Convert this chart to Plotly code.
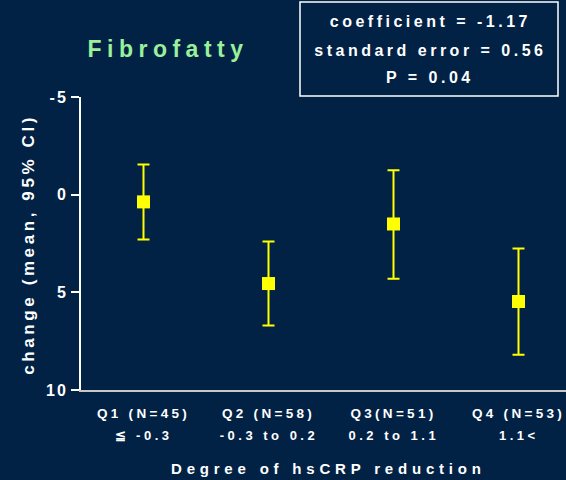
import plotly.graph_objects as go

# Quartiles of hsCRP reduction
groups = ["Q1 (N=45)", "Q2 (N=58)", "Q3(N=51)", "Q4 (N=53)"]
ranges = ["≦ -0.3", "-0.3 to 0.2", "0.2 to 1.1", "1.1<"]

# Change in fibrofatty volume: mean and 95% CI bounds
mean = [0.37, 4.55, 1.50, 5.47]
ci_low = [-1.55, 2.40, -1.25, 2.75]
ci_high = [2.30, 6.70, 4.30, 8.20]

# Regression summary
stats_lines = ["coefficient = -1.17", "standard error = 0.56", "P = 0.04"]

y_ticks = [-5, 0, 5, 10]
y_tick_labels = ["-5", "0", "5", "10"]

BG = "#012245"
YELLOW = "#FFFF00"
GREEN = "#9BF09B"
FONT = "Liberation Sans, Arial, sans-serif"

W, H = 566, 480
ML, MR, MT, MB = 81, 0, 97, 90
PW, PH = W - ML - MR, H - MT - MB


def px_x(px):
    """Horizontal pixel position -> paper fraction."""
    return (px - ML) / PW


def px_y(py):
    """Vertical pixel position (from top) -> paper fraction."""
    return (H - MB - py) / PH


xs = list(range(1, len(groups) + 1))

fig = go.Figure(
    go.Scatter(
        x=xs,
        y=mean,
        mode="markers",
        marker=dict(symbol="square", size=13, color=YELLOW, line=dict(width=0)),
        error_y=dict(
            type="data",
            symmetric=False,
            array=[h - m for h, m in zip(ci_high, mean)],
            arrayminus=[m - l for m, l in zip(mean, ci_low)],
            color=YELLOW,
            thickness=2,
            width=6,
        ),
        hoverinfo="skip",
    )
)

annotations = []

# Regression summary box text
for i, (line, cy) in enumerate(zip(stats_lines, [22, 50, 77])):
    annotations.append(
        dict(
            text=line, xref="paper", yref="paper",
            x=px_x(430), y=px_y(cy), xanchor="center", yanchor="middle",
            showarrow=False,
            font=dict(family=FONT, size=16, color="white", weight=700),
        )
    )

# Second line of category labels: hsCRP change ranges
for x, r in zip(xs, ranges):
    annotations.append(
        dict(
            text=r, xref="x", yref="paper",
            x=x, y=px_y(435), xanchor="center", yanchor="middle",
            showarrow=False,
            font=dict(family=FONT, size=13, color="white", weight=700),
        )
    )

# Axis titles
annotations.append(
    dict(
        text="Degree of hsCRP reduction", xref="paper", yref="paper",
        x=px_x(328), y=px_y(468), xanchor="center", yanchor="middle",
        showarrow=False,
        font=dict(family=FONT, size=15, color="white", weight=700),
    )
)
annotations.append(
    dict(
        text="change (mean, 95% CI)", xref="paper", yref="paper",
        x=px_x(28), y=px_y(245), xanchor="center", yanchor="middle",
        textangle=-90, showarrow=False,
        font=dict(family=FONT, size=17, color="white", weight=700),
    )
)

fig.update_layout(
    width=W,
    height=H,
    margin=dict(l=ML, r=MR, t=MT, b=MB, pad=0),
    paper_bgcolor=BG,
    plot_bgcolor=BG,
    showlegend=False,
    title=dict(
        text="Fibrofatty",
        xref="paper", x=px_x(168), xanchor="center",
        yref="container", y=1 - 49 / H, yanchor="middle",
        font=dict(family=FONT, size=23, color=GREEN, weight=700),
    ),
    xaxis=dict(
        range=[0.5, 4.38],
        tickmode="array",
        tickvals=xs,
        ticktext=groups,
        ticks="",
        showline=True,
        linecolor="#C8C8C8",
        linewidth=2,
        showgrid=False,
        zeroline=False,
        ticklabelstandoff=10,
        tickfont=dict(family=FONT, size=13.5, color="white", weight=700),
    ),
    yaxis=dict(
        range=[10, -5],
        tickmode="array",
        tickvals=y_ticks,
        ticktext=y_tick_labels,
        ticks="outside",
        ticklen=8,
        tickwidth=2,
        tickcolor="white",
        showline=True,
        linecolor="white",
        linewidth=2,
        showgrid=False,
        zeroline=False,
        tickfont=dict(family=FONT, size=16, color="white", weight=700),
    ),
    shapes=[
        dict(
            type="rect", xref="paper", yref="paper",
            x0=px_x(300), x1=px_x(558), y0=px_y(96), y1=px_y(2),
            line=dict(color="white", width=1.5),
            fillcolor=BG, layer="below",
        )
    ],
    annotations=annotations,
)

# Wide letter spacing for the slide-style lettering
n_stats = len(stats_lines)
n_ranges = len(ranges)
css_rules = [
    ".gtitle{letter-spacing:5.5px}",
    ".xtick text{letter-spacing:3.3px}",
    ".ytick text{letter-spacing:2px}",
]
for i in range(n_stats):
    css_rules.append(f'g.annotation[data-index="{i}"] text{{letter-spacing:3.5px}}')
for i in range(n_stats, n_stats + n_ranges):
    css_rules.append(f'g.annotation[data-index="{i}"] text{{letter-spacing:3.5px}}')
css_rules.append(f'g.annotation[data-index="{n_stats + n_ranges}"] text{{letter-spacing:4.8px}}')
css_rules.append(f'g.annotation[data-index="{n_stats + n_ranges + 1}"] text{{letter-spacing:3.6px}}')

post_script = (
    "var s=document.createElement('style');"
    "s.textContent=" + repr("".join(css_rules)) + ";"
    "document.head.appendChild(s);"
)

fig.write_html("out.html", post_script=post_script)
